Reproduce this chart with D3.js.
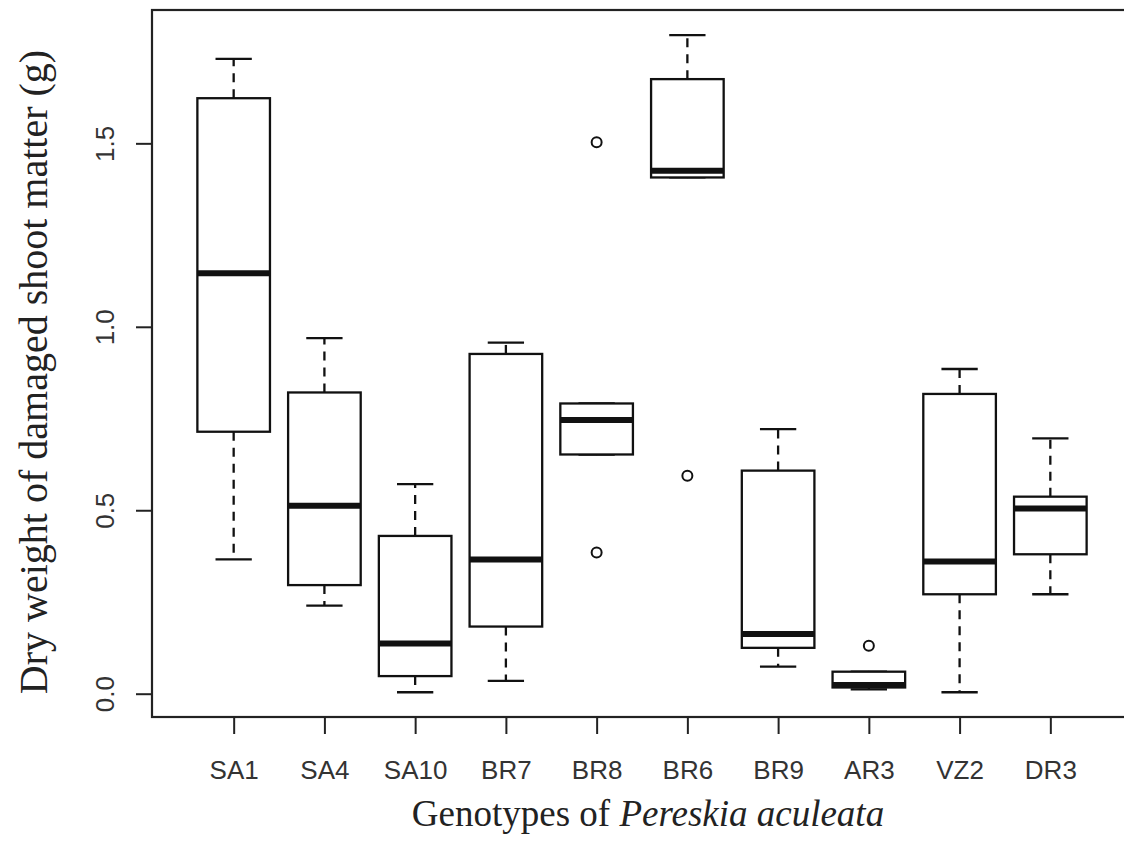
<!DOCTYPE html>
<html>
<head>
<meta charset="utf-8">
<script src="https://cdn.jsdelivr.net/npm/d3@7"></script>
<style>
  body { margin: 0; background: #fff; }
  svg { display: block; }
</style>
</head>
<body>
<div id="main"></div>
<script>
// genotypes along the x axis, in plotted order
const genotypes = ['SA1', 'SA4', 'SA10', 'BR7', 'BR8', 'BR6', 'BR9', 'AR3', 'VZ2', 'DR3'];

// five-number summaries (g)
const lowerWhisker = [0.366, 0.240, 0.004, 0.035, 0.652, 1.407, 0.074, 0.012, 0.004, 0.271];
const q1           = [0.714, 0.296, 0.048, 0.183, 0.652, 1.407, 0.125, 0.017, 0.271, 0.380];
const medians      = [1.146, 0.512, 0.137, 0.366, 0.746, 1.425, 0.163, 0.024, 0.360, 0.505];
const q3           = [1.623, 0.821, 0.430, 0.926, 0.791, 1.675, 0.608, 0.060, 0.817, 0.537];
const upperWhisker = [1.730, 0.969, 0.571, 0.957, 0.791, 1.795, 0.721, 0.060, 0.885, 0.696];

// outlying points
const outlierGenotypes = ['BR8', 'BR8', 'BR6', 'AR3'];
const outlierValues    = [1.503, 0.385, 0.594, 0.131];

const yTicks = [0, 0.5, 1.0, 1.5];

const boxes = genotypes.map((g, i) => ({
    g: g, pos: i + 1,
    lo: lowerWhisker[i], q1: q1[i], med: medians[i], q3: q3[i], hi: upperWhisker[i]
}));
const outliers = outlierGenotypes.map((g, i) => ({ pos: genotypes.indexOf(g) + 1, v: outlierValues[i] }));

const width = 1124, height = 850;
const plotLeft = 152, plotTop = 10, plotRight = 1132, plotBottom = 717;

let svg = d3.select('#main')
    .append('svg')
        .attr('width', width)
        .attr('height', height);

// R style: positions 1..n, padded half a slot plus 4%
const x = d3.scaleLinear().domain([0.1, 10.9]).range([plotLeft, plotRight]);
const y = d3.scaleLinear().domain([-0.0635, 1.8634]).range([plotBottom, plotTop]);

const unit = x(2) - x(1);
const boxW = 0.8 * unit;
const capW = 0.5 * boxW;
const ink = '#111';

// whiskers (dashed)
const g = svg.append('g');
g.selectAll('.whisker-up')
    .data(boxes)
    .enter()
    .append('line')
        .attr('x1', d => x(d.pos)).attr('x2', d => x(d.pos))
        .attr('y1', d => y(d.q3)).attr('y2', d => y(d.hi))
        .attr('stroke', ink).attr('stroke-width', 2.3)
        .attr('stroke-dasharray', '9,7');
g.selectAll('.whisker-down')
    .data(boxes)
    .enter()
    .append('line')
        .attr('x1', d => x(d.pos)).attr('x2', d => x(d.pos))
        .attr('y1', d => y(d.q1)).attr('y2', d => y(d.lo))
        .attr('stroke', ink).attr('stroke-width', 2.3)
        .attr('stroke-dasharray', '9,7');

// staples
g.selectAll('.cap-up')
    .data(boxes)
    .enter()
    .append('line')
        .attr('x1', d => x(d.pos) - capW / 2).attr('x2', d => x(d.pos) + capW / 2)
        .attr('y1', d => y(d.hi)).attr('y2', d => y(d.hi))
        .attr('stroke', ink).attr('stroke-width', 2.3);
g.selectAll('.cap-down')
    .data(boxes)
    .enter()
    .append('line')
        .attr('x1', d => x(d.pos) - capW / 2).attr('x2', d => x(d.pos) + capW / 2)
        .attr('y1', d => y(d.lo)).attr('y2', d => y(d.lo))
        .attr('stroke', ink).attr('stroke-width', 2.3);

// boxes
g.selectAll('.box')
    .data(boxes)
    .enter()
    .append('rect')
        .attr('x', d => x(d.pos) - boxW / 2)
        .attr('y', d => y(d.q3))
        .attr('width', boxW)
        .attr('height', d => y(d.q1) - y(d.q3))
        .attr('fill', '#fff')
        .attr('stroke', ink).attr('stroke-width', 2.3);

// medians
g.selectAll('.median')
    .data(boxes)
    .enter()
    .append('line')
        .attr('x1', d => x(d.pos) - boxW / 2).attr('x2', d => x(d.pos) + boxW / 2)
        .attr('y1', d => y(d.med)).attr('y2', d => y(d.med))
        .attr('stroke', ink).attr('stroke-width', 6);

// outliers
g.selectAll('.outlier')
    .data(outliers)
    .enter()
    .append('circle')
        .attr('cx', d => x(d.pos))
        .attr('cy', d => y(d.v))
        .attr('r', 5)
        .attr('fill', 'none')
        .attr('stroke', ink).attr('stroke-width', 2);

// frame (right edge falls just outside the picture)
svg.append('rect')
    .attr('x', plotLeft).attr('y', plotTop)
    .attr('width', plotRight - plotLeft).attr('height', plotBottom - plotTop)
    .attr('fill', 'none')
    .attr('stroke', '#222').attr('stroke-width', 2.2);

// y axis
const yAxis = svg.append('g')
    .attr('transform', `translate(${plotLeft},0)`)
    .call(d3.axisLeft(y).tickValues(yTicks).tickFormat(d3.format('.1f')).tickSize(16).tickSizeOuter(0));
yAxis.select('.domain').remove();
yAxis.selectAll('line').attr('stroke', '#222').attr('stroke-width', 2);
yAxis.selectAll('text')
    .attr('x', null).attr('dy', null)
    .attr('text-anchor', 'middle')
    .attr('transform', 'translate(-38,0) rotate(-90)')
    .attr('fill', '#333')
    .style('font-family', '"Liberation Sans", Arial, sans-serif')
    .style('font-size', '26px');

// x axis
const xAxis = svg.append('g')
    .attr('transform', `translate(0,${plotBottom})`)
    .call(d3.axisBottom(x).tickValues(boxes.map(d => d.pos)).tickFormat(p => genotypes[p - 1]).tickSize(17).tickSizeOuter(0));
xAxis.select('.domain').remove();
xAxis.selectAll('line').attr('stroke', '#222').attr('stroke-width', 2);
xAxis.selectAll('text')
    .attr('y', 62).attr('dy', null)
    .attr('fill', '#333')
    .style('font-family', '"Liberation Sans", Arial, sans-serif')
    .style('font-size', '26px');

// axis titles
const xTitle = svg.append('text')
    .attr('x', 648).attr('y', 826)
    .attr('text-anchor', 'middle')
    .attr('fill', '#222')
    .style('font-family', '"Liberation Serif", "Times New Roman", serif')
    .style('font-size', '37px');
xTitle.append('tspan').text('Genotypes of ');
xTitle.append('tspan').style('font-style', 'italic').text('Pereskia aculeata');

svg.append('text')
    .attr('transform', 'translate(47,372) rotate(-90)')
    .attr('text-anchor', 'middle')
    .attr('fill', '#222')
    .style('font-family', '"Liberation Serif", "Times New Roman", serif')
    .style('font-size', '40px')
    .text('Dry weight of damaged shoot matter (g)');
</script>
</body>
</html>
